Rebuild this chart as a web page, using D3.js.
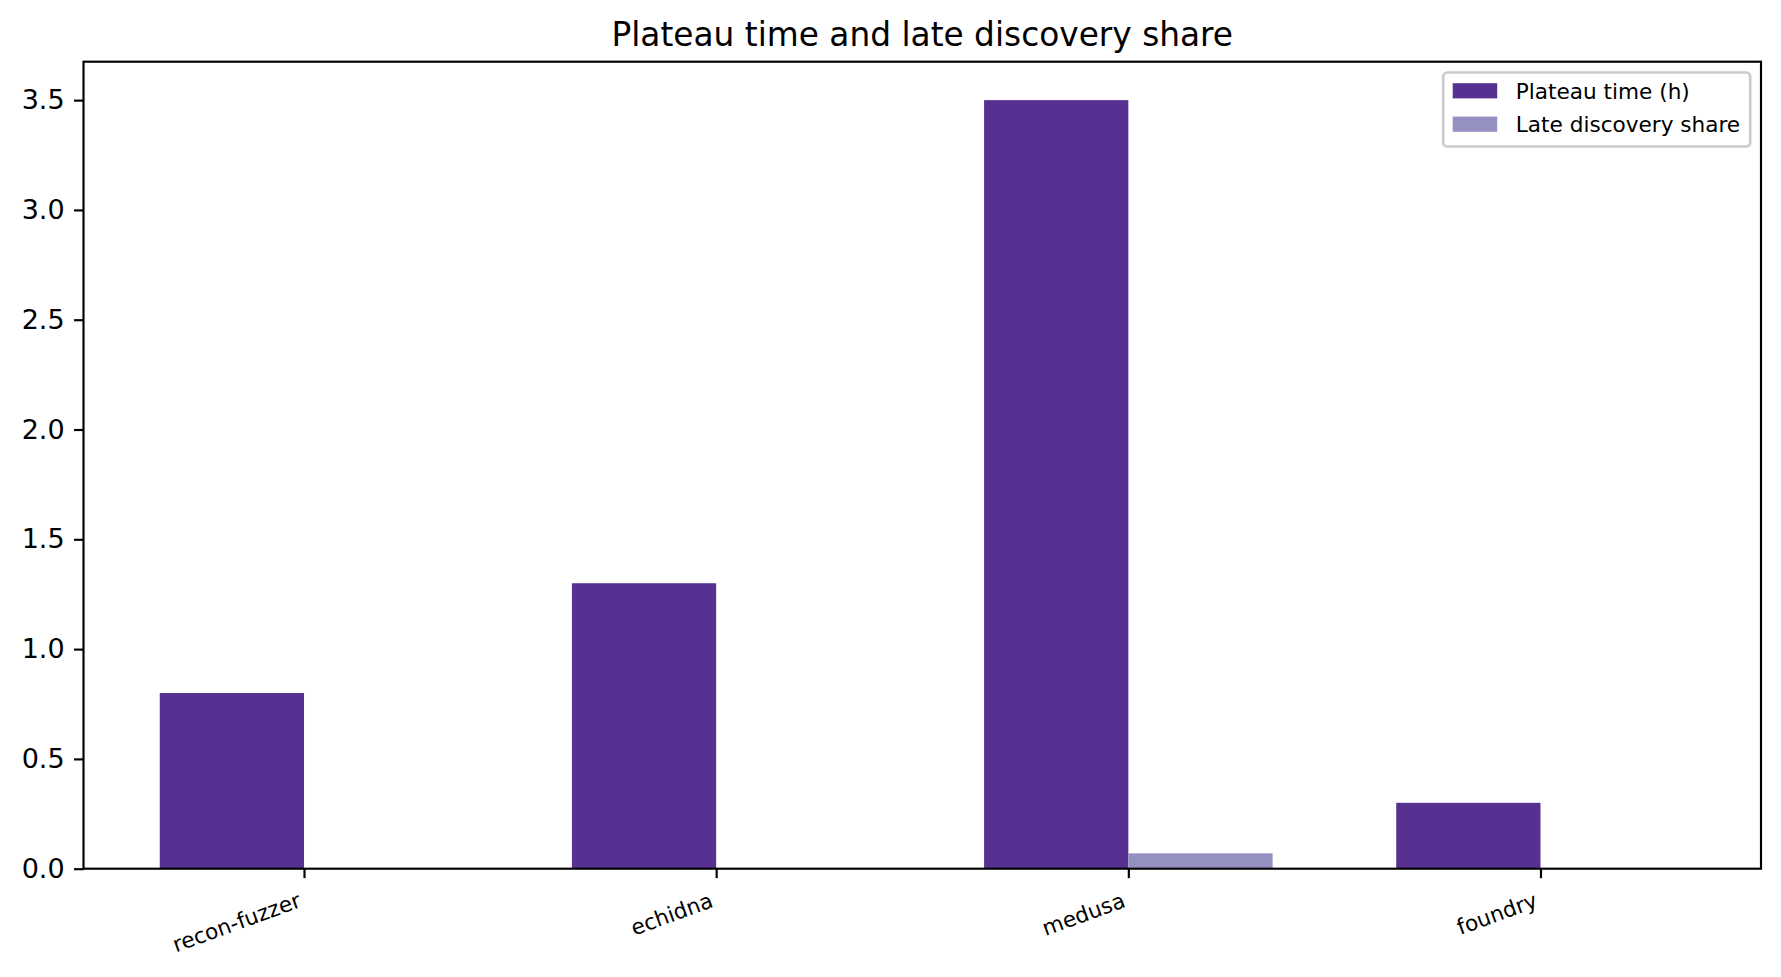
<!DOCTYPE html>
<html>
<head>
<meta charset="utf-8">
<script src="https://cdn.jsdelivr.net/npm/d3@7"></script>
<style>
  body { margin: 0; background: #fff; }
  text { font-family: "DejaVu Sans", sans-serif; fill: #000; }
</style>
</head>
<body>
<svg id="chart" width="1781" height="977"></svg>
<script>
// tools on the x axis
const tools = ["recon-fuzzer", "echidna", "medusa", "foundry"];
// plateau time in hours
const plateauHours = [0.8, 1.3, 3.5, 0.3];
// share of discoveries made late
const lateShare = [0, 0, 0.07, 0];
const yTicks = [0, 0.5, 1.0, 1.5, 2.0, 2.5, 3.0, 3.5];
const seriesNames = ["Plateau time (h)", "Late discovery share"];
const seriesColors = ["#563191", "#9490c2"];

const svg = d3.select("#chart");
const margin = { top: 61.7, right: 20, bottom: 108.3, left: 83.5 };
const width = 1781 - margin.left - margin.right;
const height = 977 - margin.top - margin.bottom;
const barW = 0.35;

const x = d3.scaleLinear().domain([-0.535, 3.535]).range([0, width]);
const y = d3.scaleLinear().domain([0, 3.675]).range([height, 0]);

const g = svg.append("g").attr("transform", `translate(${margin.left},${margin.top})`);

// bars: plateau left of tick, late share right of tick
const series = [plateauHours, lateShare];
series.forEach((vals, s) => {
    g.selectAll(".bar" + s)
        .data(vals)
        .enter()
        .append("rect")
        .attr("x", (d, i) => x(s === 0 ? i - barW : i))
        .attr("y", d => y(d))
        .attr("width", x(barW) - x(0))
        .attr("height", d => y(0) - y(d))
        .attr("fill", seriesColors[s]);
});

// y axis ticks
const yAxis = g.append("g")
    .call(d3.axisLeft(y).tickValues(yTicks).tickFormat(d3.format(".1f")).tickSize(9.45).tickPadding(9.45));
yAxis.select(".domain").remove();
yAxis.selectAll("line").attr("stroke", "#000").attr("stroke-width", 2.16);
yAxis.selectAll("text").style("font-size", "27px").attr("font-family", "DejaVu Sans");

// x axis ticks
const xAxis = g.append("g")
    .attr("transform", `translate(0,${height})`)
    .call(d3.axisBottom(x).tickValues(d3.range(tools.length)).tickSize(9.45).tickFormat(""));
xAxis.select(".domain").remove();
xAxis.selectAll("line").attr("stroke", "#000").attr("stroke-width", 2.16);

// rotated category labels, right aligned to tick
const xFont = 21.6;
g.selectAll(".xlabel")
    .data(tools)
    .enter()
    .append("text")
    .attr("class", "xlabel")
    .attr("text-anchor", "end")
    .style("font-size", xFont + "px")
    .attr("dy", "0.93em")
    .attr("transform", (d, i) => `translate(${x(i) - xFont * 1.16 * Math.sin(20 * Math.PI / 180)},${height + 18.9}) rotate(-20)`)
    .text(d => d);

// frame
g.append("rect")
    .attr("x", 0).attr("y", 0)
    .attr("width", width).attr("height", height)
    .attr("fill", "none")
    .attr("stroke", "#000")
    .attr("stroke-width", 2.16);

// title
svg.append("text")
    .attr("x", margin.left + width / 2)
    .attr("y", margin.top - 16.2)
    .attr("text-anchor", "middle")
    .style("font-size", "32.8px")
    .text("Plateau time and late discovery share");

// legend
const lg = g.append("g").attr("transform", `translate(${width - 10.8 - 307},10.8)`);
lg.append("rect")
    .attr("width", 307).attr("height", 74)
    .attr("rx", 4).attr("ry", 4)
    .attr("fill", "#fff").attr("fill-opacity", 0.8)
    .attr("stroke", "#cccccc").attr("stroke-width", 2.7);
seriesNames.forEach((name, i) => {
    lg.append("rect")
        .attr("x", 9.5).attr("y", 10.7 + i * 33.4)
        .attr("width", 44.5).attr("height", 15.2)
        .attr("fill", seriesColors[i]);
    lg.append("text")
        .attr("x", 72.6).attr("y", 18.3 + i * 33.4)
        .attr("dy", "0.36em")
        .style("font-size", "21.6px")
        .text(name);
});
</script>
</body>
</html>
